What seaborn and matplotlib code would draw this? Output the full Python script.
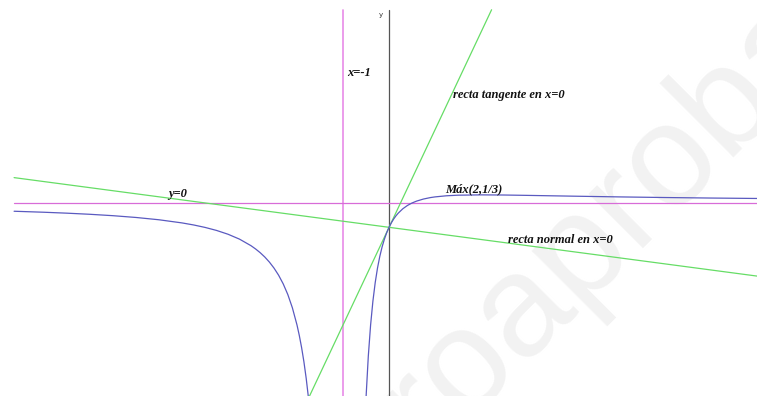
import matplotlib
matplotlib.use("Agg")
import matplotlib.pyplot as plt
import seaborn as sns

sns.set_theme(style="white")

# Curve (left branch, x < -1)
left_x = [-8.15, -7.5, -7.0, -6.5, -6.0, -5.5, -5.0, -4.5, -4.25, -4.0, -3.75, -3.5,
          -3.25, -3.0, -2.9, -2.8, -2.7, -2.6, -2.5, -2.4, -2.3, -2.2, -2.1, -2.0,
          -1.95, -1.9, -1.85, -1.8, -1.75, -1.7]
left_y = [-0.338, -0.379, -0.417, -0.463, -0.52, -0.593, -0.6875, -0.816, -0.899, -1.0,
          -1.124, -1.28, -1.481, -1.75, -1.884, -2.037, -2.214, -2.422, -2.667, -2.959,
          -3.314, -3.75, -4.298, -5.0, -5.429, -5.926, -6.505, -7.188, -8.0, -8.98]
# Curve (right branch, x > -1)
right_x = [-0.55, -0.5, -0.45, -0.4, -0.35, -0.3, -0.25, -0.2, -0.15, -0.1, -0.05, 0.0,
           0.05, 0.1, 0.15, 0.2, 0.3, 0.4, 0.5, 0.6, 0.75, 0.9, 1.0, 1.25, 1.5, 2.0,
           2.5, 3.0, 3.5, 4.0, 5.0, 6.0, 7.0, 8.1]
right_y = [-10.37, -8.0, -6.281, -5.0, -4.024, -3.265, -2.667, -2.188, -1.799, -1.481,
           -1.219, -1.0, -0.816, -0.661, -0.529, -0.417, -0.237, -0.102, 0.0, 0.078,
           0.163, 0.222, 0.25, 0.296, 0.32, 0.333, 0.327, 0.3125, 0.296, 0.28, 0.25,
           0.2245, 0.203, 0.184]
# Straight lines (end points)
tangent_x = [-1.76, 2.23]
tangent_y = [-8.04, 7.92]
normal_x = [-8.15, 8.1]
normal_y = [1.04, -3.02]
vasym_x = [-1.0, -1.0]
vasym_y = [7.92, -8.3]
hasym_x = [-8.15, 8.1]
hasym_y = [0.0, 0.0]
yaxis_x = [0.0, 0.0]
yaxis_y = [7.92, -8.3]

labels = ["recta tangente en x=0", "recta normal en x=0", "Máx(2,1/3)", "y=0", "x=-1"]
axis_label = "y"
watermark = "yoquieroaprobar"

BLUE = "#5a5ac0"
GREEN = "#66dd66"
PINK = "#d86cd8"
PINK_V = "#e890e8"
AXIS = "#555555"

fig = plt.figure(figsize=(7.57, 3.96), dpi=100)
ax = fig.add_axes([0, 0, 1, 1])
ax.set_axis_off()

ax.text(876 / 757, 1 - 16 / 396, watermark, transform=fig.transFigure, rotation=45,
        rotation_mode="anchor", ha="right", va="baseline", fontsize=104,
        family="Liberation Sans", color="#f2f2f2", zorder=0, clip_on=False)

lw = 0.9
kw = dict(ax=ax, sort=False, estimator=None, zorder=2)
sns.lineplot(x=yaxis_x, y=yaxis_y, color=AXIS, lw=lw, **kw)
sns.lineplot(x=vasym_x, y=vasym_y, color=PINK_V, lw=1.25, **kw)
sns.lineplot(x=hasym_x, y=hasym_y, color=PINK, lw=lw, **kw)
sns.lineplot(x=tangent_x, y=tangent_y, color=GREEN, lw=lw, **kw)
sns.lineplot(x=normal_x, y=normal_y, color=GREEN, lw=lw, **kw)
sns.lineplot(x=left_x, y=left_y, color=BLUE, lw=lw, **kw)
sns.lineplot(x=right_x, y=right_y, color=BLUE, lw=lw, **kw)

ax.set_xlim(-389 / 46, (757 - 389) / 46)
ax.set_ylim((203 - 396) / 24.4, 203 / 24.4)

tkw = dict(family="Liberation Serif", style="italic", weight="bold", fontsize=9,
           color="#111111", va="center", ha="left", zorder=3)
ax.text(1.39, 4.43, labels[0], **tkw)
ax.text(2.59, -1.52, labels[1], **tkw)
ax.text(1.22, 0.57, labels[2], **tkw)
ax.text(-4.80, 0.37, labels[3], **tkw)
ax.text(-0.91, 5.33, labels[4], **tkw)
ax.text(-0.17, 7.70, axis_label, family="DejaVu Sans", fontsize=5, color="#333333",
        ha="center", va="center", zorder=3)

fig.savefig("out.png", dpi=100)
